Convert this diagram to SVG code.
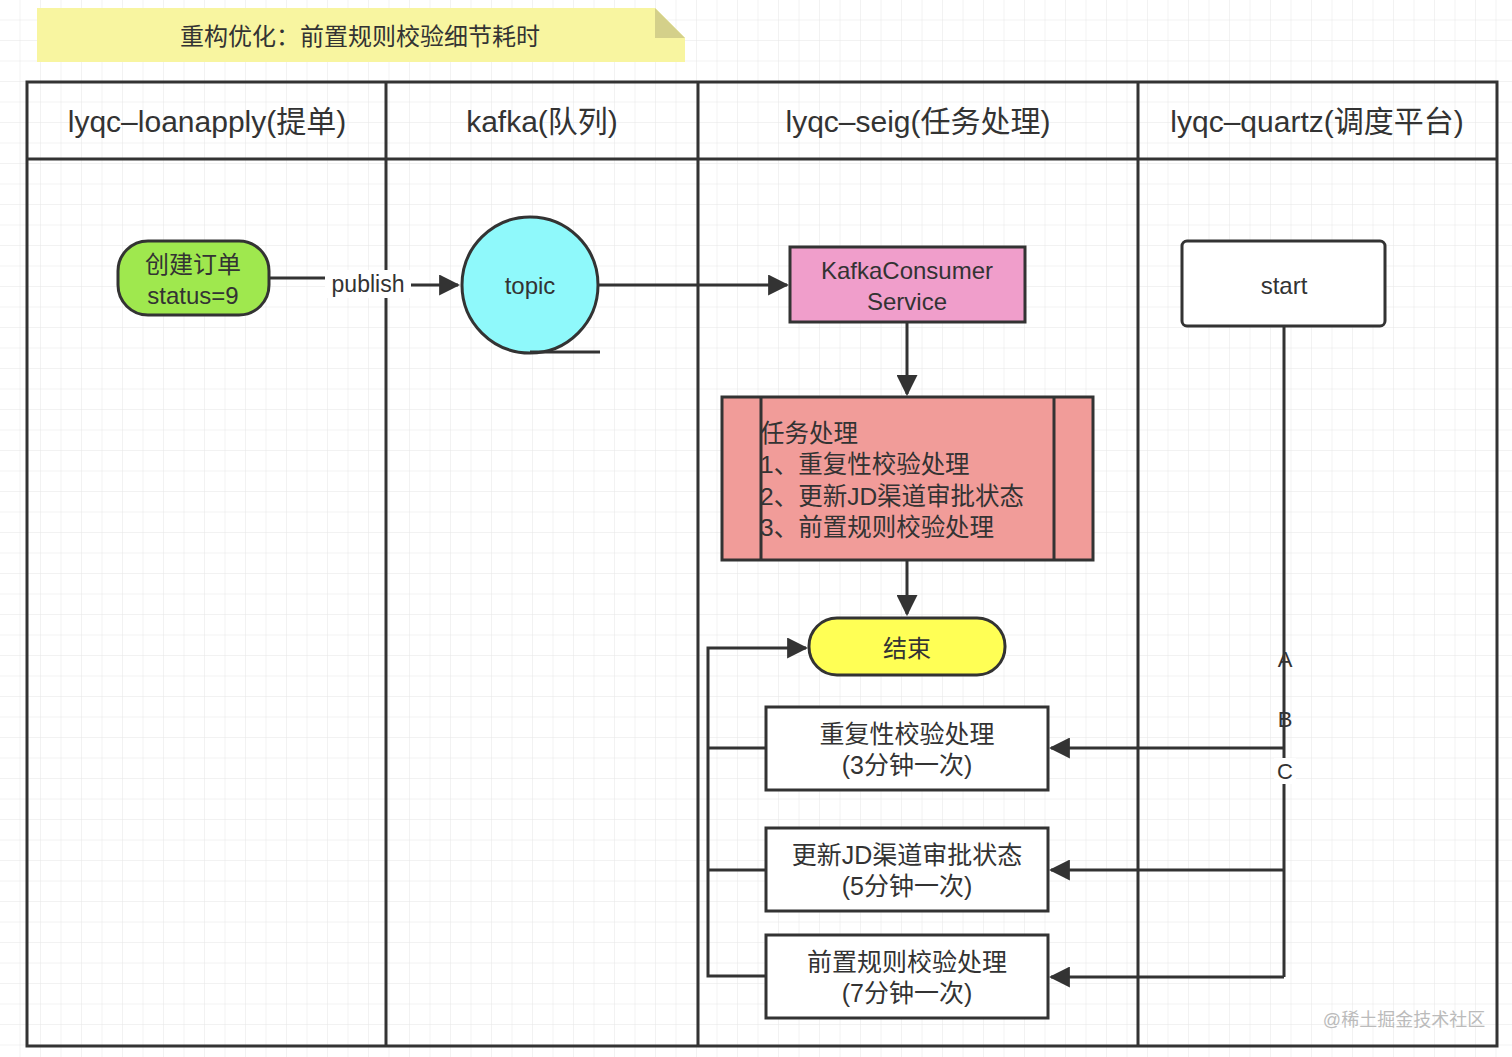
<svg xmlns="http://www.w3.org/2000/svg" width="1512" height="1057" viewBox="0 0 1512 1057">
<defs>
<pattern id="g" width="20.5" height="20.5" patternUnits="userSpaceOnUse"><path d="M20.5 0V20.5H0" fill="none" stroke="#e6e6e6" stroke-width="1"/></pattern>
<marker id="ar" viewBox="0 0 10 10" refX="9" refY="5" markerWidth="7" markerHeight="7" orient="auto"><path d="M0 0L10 5L0 10z" fill="#333"/></marker>
</defs>
<style>
.t{font-family:"Liberation Sans","Noto Sans CJK SC",sans-serif;fill:#333;text-anchor:middle}
.s{stroke:#333;stroke-width:3}
.c{fill:none;stroke:#333;stroke-width:3}
</style>
<rect width="1512" height="1057" fill="#fff"/>
<rect width="1512" height="1057" fill="url(#g)"/>
<g id="note">
<polygon points="37,8 655,8 685,38 685,62 37,62" fill="#f8f5a0"/>
<polygon points="655,8 685,38 655,38" fill="#d4d08a"/>
<text class="t" x="360" y="45" font-size="24">重构优化：前置规则校验细节耗时</text>
</g>
<g id="pool">
<rect x="27" y="82" width="1470" height="964" fill="none" class="s"/>
<line x1="27" y1="159" x2="1497" y2="159" class="s"/>
<line x1="386" y1="82" x2="386" y2="1046" class="s"/>
<line x1="698" y1="82" x2="698" y2="1046" class="s"/>
<line x1="1138" y1="82" x2="1138" y2="1046" class="s"/>
<text class="t" x="207" y="132" font-size="30">lyqc–loanapply(提单)</text>
<text class="t" x="542" y="132" font-size="30">kafka(队列)</text>
<text class="t" x="918" y="132" font-size="30">lyqc–seig(任务处理)</text>
<text class="t" x="1317" y="132" font-size="30">lyqc–quartz(调度平台)</text>
</g>
<g id="connectors">
<path d="M269 278H367V285H458" class="c" marker-end="url(#ar)"/>
<rect x="325" y="270" width="86" height="28" fill="#fff"/>
<text class="t" x="368" y="292" font-size="23">publish</text>
<path d="M598 285H787" class="c" marker-end="url(#ar)"/>
<path d="M907 322V394" class="c" marker-end="url(#ar)"/>
<path d="M907 560V614" class="c" marker-end="url(#ar)"/>
<path d="M766 748H708M766 870H708M766 976H708V648H806" class="c" marker-end="url(#ar)"/>
<path d="M1284 326V977" class="c"/>
<path d="M1284 748H1051" class="c" marker-end="url(#ar)"/>
<path d="M1284 870H1051" class="c" marker-end="url(#ar)"/>
<path d="M1284 977H1051" class="c" marker-end="url(#ar)"/>
<rect x="1274" y="758" width="22" height="26" fill="#fff"/>
<text class="t" x="1285" y="667" font-size="22">A</text>
<text class="t" x="1285" y="727" font-size="22">B</text>
<text class="t" x="1285" y="779" font-size="22">C</text>
</g>
<g id="create">
<rect x="118" y="241" width="151" height="74" rx="30" fill="#9fe84e" class="s"/>
<text class="t" x="193" y="273" font-size="24">创建订单</text>
<text class="t" x="193" y="304" font-size="24">status=9</text>
</g>
<g id="topic">
<ellipse cx="530" cy="285" rx="68" ry="68" fill="#8ff9fb" class="s"/>
<line x1="530" y1="352" x2="600" y2="352" class="s"/>
<text class="t" x="530" y="294" font-size="24">topic</text>
</g>
<g id="consumer">
<rect x="790" y="247" width="235" height="75" fill="#f09ecb" class="s"/>
<text class="t" x="907" y="279" font-size="24">KafkaConsumer</text>
<text class="t" x="907" y="310" font-size="24">Service</text>
</g>
<g id="task">
<rect x="722" y="397" width="371" height="163" fill="#f19c99" class="s"/>
<line x1="761" y1="397" x2="761" y2="560" class="s"/>
<line x1="1054" y1="397" x2="1054" y2="560" class="s"/>
<g font-size="24.5" font-family="Liberation Sans,Noto Sans CJK SC,sans-serif" fill="#333">
<text x="760" y="442">任务处理</text>
<text x="760" y="473">1、重复性校验处理</text>
<text x="760" y="505">2、更新JD渠道审批状态</text>
<text x="760" y="536">3、前置规则校验处理</text>
</g>
</g>
<g id="end">
<rect x="809" y="618" width="196" height="57" rx="28" fill="#ffff55" class="s"/>
<text class="t" x="907" y="657" font-size="24">结束</text>
</g>
<g id="b1">
<rect x="766" y="707" width="282" height="83" fill="#fff" class="s"/>
<text class="t" x="907" y="743" font-size="25">重复性校验处理</text>
<text class="t" x="907" y="774" font-size="25">(3分钟一次)</text>
</g>
<g id="b2">
<rect x="766" y="828" width="282" height="83" fill="#fff" class="s"/>
<text class="t" x="907" y="864" font-size="25">更新JD渠道审批状态</text>
<text class="t" x="907" y="895" font-size="25">(5分钟一次)</text>
</g>
<g id="b3">
<rect x="766" y="935" width="282" height="83" fill="#fff" class="s"/>
<text class="t" x="907" y="971" font-size="25">前置规则校验处理</text>
<text class="t" x="907" y="1002" font-size="25">(7分钟一次)</text>
</g>
<g id="start">
<rect x="1182" y="241" width="203" height="85" rx="5" fill="#fff" class="s"/>
<text class="t" x="1284" y="294" font-size="24">start</text>
</g>
<text class="t" x="1404" y="1026" font-size="18" style="fill:#bbb">@稀土掘金技术社区</text>
</svg>
